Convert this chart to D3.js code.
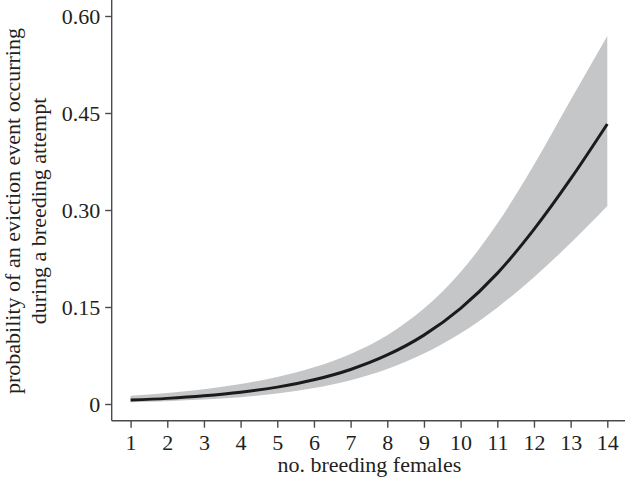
<!DOCTYPE html>
<html>
<head>
<meta charset="utf-8">
<script src="https://cdn.jsdelivr.net/npm/d3@7"></script>
<style>
  html, body { margin: 0; padding: 0; background: #fff; }
  svg { display: block; }
  text { font-family: "Liberation Serif", "Times New Roman", serif; fill: #231f20; }
</style>
</head>
<body>
<div id="chart"></div>
<script>
// values
const females = [1, 2, 3, 4, 5, 6, 7, 8, 9, 10, 11, 12, 13, 14];
const prob  = [0.006, 0.0087, 0.0126, 0.0181, 0.0261, 0.0374, 0.0534, 0.0758, 0.1065, 0.148, 0.202, 0.27, 0.348, 0.433];
const upper = [0.0128, 0.0171, 0.023, 0.0309, 0.0418, 0.0568, 0.0775, 0.1065, 0.1475, 0.204, 0.279, 0.37, 0.47, 0.569];
const lower = [0.0028, 0.0044, 0.0068, 0.0105, 0.0162, 0.0246, 0.0369, 0.0543, 0.0782, 0.1095, 0.149, 0.196, 0.249, 0.3062];

const yTicks = [0, 0.15, 0.30, 0.45, 0.60];
const yTickLabels = ['0', '0.15', '0.30', '0.45', '0.60'];
const xTitle = 'no. breeding females';
const yTitle = ['probability of an eviction event occurring', 'during a breeding attempt'];

const width = 627, height = 477;
const axisX = 111.7, axisY = 420.7;
const fontSize = 22;

const svg = d3.select('#chart').append('svg')
    .attr('width', width)
    .attr('height', height);

const x = d3.scaleLinear().domain([1, 14]).range([130.6, 607.3]);
const y = d3.scaleLinear().domain([0, 0.6]).range([404, 16]);

const data = females.map((f, i) => ({f: f, p: prob[i], hi: upper[i], lo: lower[i]}));

// confidence band
svg.append('path')
    .datum(data)
    .attr('fill', '#c5c6c8')
    .attr('d', d3.area()
        .x(d => x(d.f))
        .y0(d => y(d.lo))
        .y1(d => y(d.hi))
        .curve(d3.curveMonotoneX));

// fitted line
svg.append('path')
    .datum(data)
    .attr('fill', 'none')
    .attr('stroke', '#1b1b1b')
    .attr('stroke-width', 3)
    .attr('d', d3.line()
        .x(d => x(d.f))
        .y(d => y(d.p))
        .curve(d3.curveMonotoneX));

// axes
const yAxis = svg.append('g')
    .attr('transform', `translate(${axisX},0)`)
    .call(d3.axisLeft(y)
        .tickValues(yTicks)
        .tickFormat((d, i) => yTickLabels[i])
        .tickSize(6.5)
        .tickPadding(5));

const xAxis = svg.append('g')
    .attr('transform', `translate(0,${axisY})`)
    .call(d3.axisBottom(x)
        .tickValues(females)
        .tickSize(7)
        .tickPadding(7));

[yAxis, xAxis].forEach(g => {
    g.select('.domain').remove();
    g.selectAll('.tick line').attr('stroke', '#4a4a4a').attr('stroke-width', 1.4);
    g.selectAll('.tick text')
        .attr('font-family', '"Liberation Serif", serif')
        .attr('font-size', fontSize)
        .attr('fill', '#231f20');
});

// axis lines run past the tick range like the original
svg.append('line')
    .attr('x1', axisX).attr('x2', axisX)
    .attr('y1', 0).attr('y2', axisY)
    .attr('stroke', '#4a4a4a').attr('stroke-width', 1.4);
svg.append('line')
    .attr('x1', axisX).attr('x2', 625)
    .attr('y1', axisY).attr('y2', axisY)
    .attr('stroke', '#4a4a4a').attr('stroke-width', 1.4);

// titles
svg.append('text')
    .attr('x', (axisX + 625) / 2 + 1)
    .attr('y', 472)
    .attr('text-anchor', 'middle')
    .attr('font-size', fontSize)
    .text(xTitle);

const yt = svg.append('text')
    .attr('transform', 'translate(0,211) rotate(-90)')
    .attr('text-anchor', 'middle')
    .attr('font-size', fontSize);
yt.selectAll('tspan')
    .data(yTitle)
    .enter()
    .append('tspan')
    .attr('x', 0)
    .attr('y', (d, i) => 19.5 + i * 26)
    .text(d => d);
</script>
</body>
</html>
